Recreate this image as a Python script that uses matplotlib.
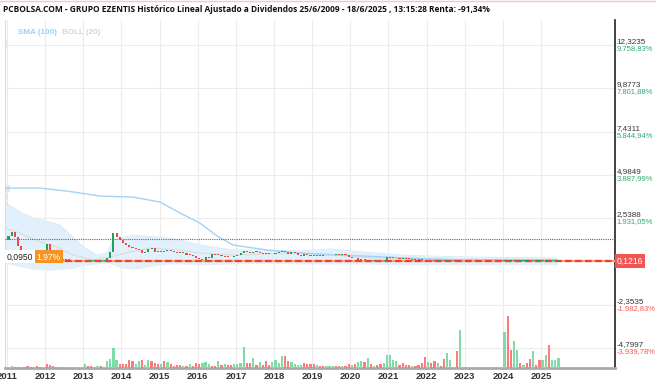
import numpy as np
import matplotlib.pyplot as plt

# monthly closes, Jan 2011 .. Jun 2025 (2023 no trading)
close_2011 = [1.55, 1.75, 1.50, 0.95, 0.72, 0.60, 0.52, 0.48, 0.45, 0.42, 0.38, 0.35]
close_2012 = [1.10, 0.46, 0.30, 0.25, 0.22, 0.20, 0.18, 0.18, 0.16, 0.17, 0.15, 0.15]
close_2013 = [0.15, 0.14, 0.14, 0.15, 0.13, 0.14, 0.18, 0.30, 0.60, 1.70, 1.45, 1.30]
close_2014 = [1.15, 1.05, 0.92, 0.85, 0.78, 0.72, 0.57, 0.62, 0.80, 0.85, 0.63, 0.66]
close_2015 = [0.63, 0.68, 0.74, 0.66, 0.60, 0.57, 0.62, 0.55, 0.48, 0.45, 0.40, 0.30]
close_2016 = [0.25, 0.18, 0.32, 0.28, 0.52, 0.48, 0.45, 0.40, 0.36, 0.34, 0.33, 0.40]
close_2017 = [0.45, 0.57, 0.68, 0.64, 0.57, 0.62, 0.64, 0.57, 0.52, 0.56, 0.50, 0.52]
close_2018 = [0.57, 0.60, 0.68, 0.60, 0.52, 0.63, 0.55, 0.46, 0.40, 0.50, 0.45, 0.42]
close_2019 = [0.45, 0.42, 0.40, 0.46, 0.44, 0.48, 0.44, 0.50, 0.47, 0.50, 0.46, 0.33]
close_2020 = [0.30, 0.26, 0.20, 0.24, 0.18, 0.15, 0.13, 0.16, 0.14, 0.13, 0.20, 0.34]
close_2021 = [0.30, 0.29, 0.27, 0.25, 0.27, 0.23, 0.22, 0.20, 0.18, 0.17, 0.19, 0.15]
close_2022 = [0.14, 0.13, 0.12, 0.13, 0.12, 0.11, 0.12, 0.13, 0.12, 0.11, 0.10, 0.12]
close_2023 = [np.nan] * 12
close_2024 = [0.13, 0.11, 0.12, 0.13, 0.12, 0.12, 0.12, 0.12, 0.11, 0.12, 0.12, 0.12]
close_2025 = [0.12, 0.13, 0.12, 0.12, 0.12, 0.12]
first_open = 1.30

# monthly volume (arbitrary units) and direction g/r
vol_2011 = [4, 5, 3, 4, 0, 4, 5, 4, 0, 5, 3, 4]
vol_2012 = [12, 8, 5, 3, 0, 0, 0, 3, 3, 0, 0, 3]
vol_2013 = [12, 5, 5, 0, 5, 5, 0, 22, 28, 60, 25, 12]
vol_2014 = [12, 12, 25, 20, 12, 20, 25, 10, 25, 20, 15, 12]
vol_2015 = [12, 22, 18, 12, 5, 10, 8, 5, 5, 12, 5, 15]
vol_2016 = [12, 15, 18, 12, 5, 5, 22, 10, 12, 10, 10, 12]
vol_2017 = [12, 15, 62, 15, 15, 30, 8, 18, 8, 22, 8, 18]
vol_2018 = [25, 15, 35, 36, 20, 18, 12, 10, 10, 15, 12, 12]
vol_2019 = [12, 8, 5, 5, 5, 5, 5, 5, 5, 5, 5, 12]
vol_2020 = [8, 12, 18, 22, 18, 30, 12, 5, 10, 12, 15, 38]
vol_2021 = [40, 25, 20, 10, 15, 8, 8, 5, 5, 10, 15, 33]
vol_2022 = [18, 15, 20, 15, 5, 28, 45, 25, 0, 52, 115, 0]
vol_2023 = [0] * 12
vol_2024 = [108, 155, 55, 80, 55, 15, 8, 15, 28, 50, 8, 25]
vol_2025 = [25, 40, 70, 25, 25, 30]
vol_dir = ("ggrrrrrrrrrg" "rrrrgggggggg" "grrggrgggggr" "rrrrggrggrrr" "grgrrrrgrgrr"
           "rgggrrgrgrrg" "gggrrgrgrrrg" "gggrrggggrrr" "rgrrgggrrgrr" "grggrgrgrrgg"
           "gggrrrrgrrrr" "grrgrrggrrgg" "gggggggggggg" "grrggrgrrgrr" "ggrggg")

# volume-at-price blocks on the left edge (price level, relative size)
vap_level = [12.40, 4.20, 3.75, 3.25, 2.65, 2.05]
vap_size = [0.05, 0.14, 0.08, 0.09, 0.26, 0.18]

# indicators (year, value)
sma_x = [2010.95, 2011.87, 2012.58, 2013.44, 2014.31, 2015.01, 2015.54, 2016.06, 2016.51,
         2016.93, 2017.82, 2018.68, 2019.47, 2020.34, 2022.09, 2022.96, 2025.42]
sma_y = [4.24, 4.24, 4.07, 3.79, 3.73, 3.45, 2.83, 2.26, 1.53, 1.02, 0.74, 0.57, 0.46,
         0.40, 0.23, 0.18, 0.18]
boll_x = [2010.95, 2011.34, 2011.68, 2012.13, 2012.39, 2012.73, 2013.0, 2013.36, 2013.62,
          2013.78, 2013.97, 2014.31, 2015.20, 2015.54, 2016.06, 2016.93, 2017.82, 2018.68,
          2019.47, 2020.34, 2021.31, 2022.09, 2023.14, 2025.42]
boll_up = [3.40, 2.89, 2.55, 2.32, 2.15, 1.47, 0.91, 0.46, 0.57, 1.30, 1.42, 1.59, 1.42,
           1.30, 1.02, 0.74, 0.74, 0.68, 0.80, 0.63, 0.46, 0.40, 0.34, 0.29]
boll_lo = [0.00, -0.20, -0.35, -0.40, -0.35, -0.30, -0.15, -0.05, 0.00, -0.10, -0.25,
           -0.35, -0.05, -0.05, -0.10, -0.05, 0.00, -0.05, -0.05, -0.05, -0.10, -0.10,
           -0.10, -0.10]
mid_x = [2010.95, 2011.34, 2011.87, 2012.31, 2012.73, 2013.26, 2013.70, 2014.23, 2014.75,
         2015.46, 2016.06, 2016.85, 2017.90, 2018.68, 2019.47, 2020.52, 2022.09, 2023.40,
         2025.42]
mid_y = [1.98, 1.70, 1.19, 0.91, 0.46, 0.18, 0.34, 0.63, 0.85, 0.74, 0.57, 0.46, 0.51,
         0.57, 0.51, 0.29, 0.23, 0.18, 0.18]

grid_vals = [12.3235, 9.8773, 7.4311, 4.9849, 2.5388, -2.3535, -4.7997]
val_labels = ["12,3235", "9,8773", "7,4311", "4,9849", "2,5388", "-2,3535", "-4,7997"]
pct_labels = ["9.758,83%", "7.801,88%", "5.844,94%", "3.887,99%", "1.931,05%",
              "-1.982,83%", "-3.939,78%"]
last_price = 0.1216
low_price = 0.0950
low_pct = "1,97%"
ref_level = 1.36
years = list(range(2011, 2026))
title = ("PCBOLSA.COM - GRUPO EZENTIS Histórico Lineal Ajustado a Dividendos "
         "25/6/2009 - 18/6/2025 , 13:15:28 Renta: -91,34%")

closes = np.array(close_2011 + close_2012 + close_2013 + close_2014 + close_2015 + close_2016
                  + close_2017 + close_2018 + close_2019 + close_2020 + close_2021 + close_2022
                  + close_2023 + close_2024 + close_2025)
vols = np.array(vol_2011 + vol_2012 + vol_2013 + vol_2014 + vol_2015 + vol_2016 + vol_2017
                + vol_2018 + vol_2019 + vol_2020 + vol_2021 + vol_2022 + vol_2023 + vol_2024
                + vol_2025)
dates = 2011 + np.arange(len(closes)) / 12 + 1 / 24
opens = np.concatenate([[first_open], closes[:-1]])
opens = np.where(np.isnan(opens), closes, opens)

fig = plt.figure(figsize=(6.56, 3.86), dpi=100)
ax = fig.add_axes([5 / 656, 18 / 386, 610 / 656, 348 / 386])
ax.set_xlim(2010.95, 2026.94)
ax.set_ylim(-5.93, 13.74)

ax.spines["top"].set_visible(False)
ax.spines["left"].set_color("#dddddd")
ax.spines["right"].set_color("#222222")
ax.spines["right"].set_linewidth(1.2)
ax.spines["bottom"].set_color("#aaaaaa")
ax.spines["bottom"].set_linewidth(2)

ax.set_xticks(years)
ax.set_xticklabels([str(y) for y in years], fontsize=6.8, fontweight="bold",
                   color="#333333", family="Liberation Sans")
ax.set_yticks(grid_vals)
ax.tick_params(axis="y", length=0, labelleft=False)
ax.tick_params(axis="x", length=0, pad=3)
ax.grid(color="#ececec", lw=0.8)
ax.set_axisbelow(True)

# volume at price
ax.barh(vap_level, vap_size, left=2010.95, height=0.4, color="#e6e6e6", lw=0, zorder=1)

# bollinger + sma
ax.fill_between(boll_x, boll_lo, boll_up, color="#e2f0fb", lw=0, zorder=1)
ax.plot(boll_x, boll_up, color="#d3e8f8", lw=0.6, zorder=1)
ax.plot(mid_x, mid_y, color="#dcdcdc", lw=0.9, zorder=2)
ax.plot(sma_x, sma_y, color="#a3d2f3", lw=1.0, zorder=3)

ax.axhline(ref_level, color="#666666", lw=0.8, ls=(0, (1, 1)), zorder=3)
ax.axhline(last_price, color="#f7a35c", lw=1.6, zorder=3)
ax.axhline(last_price, color="#f03c3c", lw=1.6, ls=(0, (3, 1.5)), zorder=4)

# candles
up = closes >= opens
body_lo = np.minimum(opens, closes)
body_h = np.maximum(np.abs(closes - opens), 0.04)
ax.bar(dates, body_h, bottom=body_lo, width=0.055,
       color=np.where(up, "#22a05e", "#f04848"), lw=0, zorder=5)

# volume
axv = ax.twinx()
axv.set_ylim(0, 1044)
axv.axis("off")
vcol = ["#7fdca6" if d == "g" else "#fa7c7c" for d in vol_dir]
axv.bar(dates, vols, width=0.058, color=vcol, lw=0)

# right axis labels
tr = ax.get_yaxis_transform()
for v, lab, pct in zip(grid_vals, val_labels, pct_labels):
    ax.text(1.003, v, lab, transform=tr, fontsize=5.8, va="bottom", ha="left",
            color="#333333", family="Liberation Sans", clip_on=False)
    ax.text(1.003, v, pct, transform=tr, fontsize=5.5, va="top", ha="left",
            color="#2eab6f" if v > 0 else "#f05a5a", family="Liberation Sans", clip_on=False)
ax.text(1.003, last_price, "0,1216", transform=tr, fontsize=6.2, va="center", ha="left",
        color="white", family="Liberation Sans", clip_on=False, zorder=10,
        bbox=dict(facecolor="#f55454", edgecolor="none", pad=1.6))

# left low label
ax.text(0.003, low_price, "0,0950", transform=tr, fontsize=6.2, va="bottom", ha="left",
        color="#222222", family="Liberation Sans", zorder=10,
        bbox=dict(facecolor="white", edgecolor="none", pad=1.4))
ax.text(0.052, low_price, low_pct, transform=tr, fontsize=6.2, va="bottom", ha="left",
        color="white", family="Liberation Sans", zorder=10,
        bbox=dict(facecolor="#f7931e", edgecolor="none", pad=1.4))

# legend and title
ax.text(0.021, 0.975, "SMA (100)", transform=ax.transAxes, fontsize=5.8, fontweight="bold",
        color="#9fd0f3", va="top", family="Liberation Sans")
ax.text(0.094, 0.975, "BOLL (20)", transform=ax.transAxes, fontsize=5.8, fontweight="bold",
        color="#d6d6d6", va="top", family="Liberation Sans")
fig.text(3 / 656, 1 - 10 / 386, title, fontsize=6, fontweight="bold", va="center",
         family="Open Sans", color="#111111")
fig.add_artist(plt.Line2D([0, 1], [0.998, 0.998], color="#f0c8c8", lw=1))

fig.savefig("out.png", dpi=100)
